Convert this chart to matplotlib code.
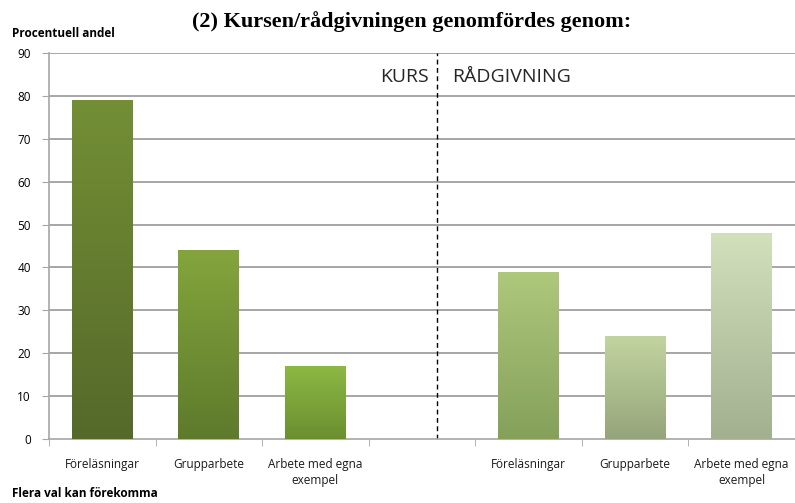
import matplotlib
matplotlib.use("Agg")
import matplotlib.pyplot as plt
import numpy as np
from matplotlib.colors import LinearSegmentedColormap

# Data
categories = ["Föreläsningar", "Grupparbete", "Arbete med egna\nexempel", "",
              "Föreläsningar", "Grupparbete", "Arbete med egna\nexempel"]
values = [79, 44, 17, None, 39, 24, 48]
top_colors = ["#738f35", "#84a53c", "#8db844", None, "#aec87c", "#c2d4a0", "#d3e0bc"]
bottom_colors = ["#55692a", "#5e7a2c", "#6a8f30", None, "#85a05a", "#95a57a", "#a3b090"]
yticks = [0, 10, 20, 30, 40, 50, 60, 70, 80, 90]

fig = plt.figure(figsize=(7.95, 5.03), dpi=100)
ax = fig.add_axes([0.0616, 0.1272, 0.9384, 0.7674])

x = np.arange(len(categories))
grid_col = "#a6a6a6"

# gradient filled bars
for i, v in enumerate(values):
    if v is None:
        continue
    bar = ax.bar(x[i], v, width=0.57, color="none", edgecolor="none", zorder=3)[0]
    cmap = LinearSegmentedColormap.from_list("g", [bottom_colors[i], top_colors[i]])
    grad = np.linspace(0, 1, 256).reshape(-1, 1)
    im = ax.imshow(grad, cmap=cmap, aspect="auto", origin="lower",
                   extent=[x[i] - 0.285, x[i] + 0.285, 0, v], zorder=3)
    im.set_clip_path(bar)

ax.set_xlim(-0.5, len(categories) - 0.5)
ax.set_ylim(0, 90)
ax.set_yticks(yticks)
for t in yticks[1:]:
    ax.axhline(t, color=grid_col, lw=1.4, zorder=1)

# divider between the two groups
ax.axvline(3.14, color="black", lw=1.0, ls=(0, (3.5, 2.5)), zorder=2)
ax.text(3.06, 84.5, "KURS", ha="right", va="center", fontsize=14,
        family="Open Sans", color="#262626")
ax.text(3.28, 84.5, "RÅDGIVNING", ha="left", va="center", fontsize=14,
        family="Open Sans", color="#262626")

ax.set_xticks(x)
ax.set_xticklabels(categories, fontsize=8.5, family="Open Sans", color="#1a1a1a",
                   linespacing=1.3)
ax.set_xticks(np.arange(-0.5, len(categories), 1.0), minor=True)
ax.tick_params(axis="x", which="major", length=0, pad=14)
ax.tick_params(axis="x", which="minor", length=5, color=grid_col, direction="out")
ax.tick_params(axis="y", length=5, color=grid_col, labelsize=8.5, pad=8)
for lab in ax.get_yticklabels():
    lab.set_family("Open Sans")

for side in ["top", "right"]:
    ax.spines[side].set_visible(False)
for side in ["left", "bottom"]:
    ax.spines[side].set_color(grid_col)
    ax.spines[side].set_linewidth(1.2)

fig.text(0.518, 0.958, "(2) Kursen/rådgivningen genomfördes genom:", ha="center",
         va="center", fontsize=16, fontweight="bold", family="Liberation Serif")
fig.text(0.015, 0.933, "Procentuell andel", ha="left", va="center", fontsize=8.5,
         fontweight="bold", family="Open Sans")
fig.text(0.015, 0.018, "Flera val kan förekomma", ha="left", va="center", fontsize=8.5,
         fontweight="bold", family="Open Sans")

fig.savefig("out.png", dpi=100)
